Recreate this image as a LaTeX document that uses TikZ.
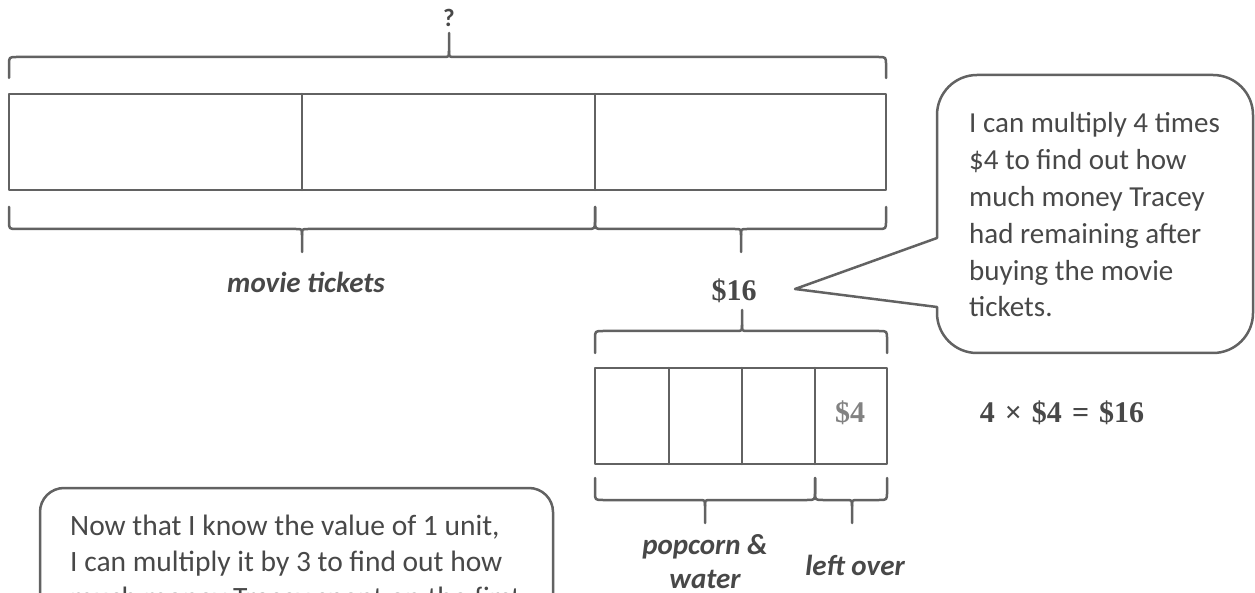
\documentclass[tikz,border=0pt]{standalone}
\usepackage{fontspec}
\setmainfont{Carlito}
\newfontfamily\numfont{Liberation Serif}
\definecolor{linegray}{RGB}{98,98,98}
\definecolor{txtgray}{RGB}{72,72,72}
\definecolor{lightnum}{RGB}{130,130,130}
\newcommand{\hbr}[6]{% x1,x2,xc,ytip,yline,ycusp
  \pgfmathsetmacro{\brT}{(#4-#5)/abs(#4-#5)*8}%
  \pgfmathsetmacro{\brC}{(#6-#5)/abs(#6-#5)*6}%
  \draw[ln] (#1,#4) -- (#1,{#5+\brT}) .. controls (#1,#5) .. ({#1+8},#5) -- ({#3-6},#5) .. controls (#3,#5) .. (#3,{#5+\brC}) -- (#3,#6);
  \draw[ln] (#3,{#5+\brC}) .. controls (#3,#5) .. ({#3+6},#5) -- ({#2-8},#5) .. controls (#2,#5) .. (#2,{#5+\brT}) -- (#2,#4);
}
\begin{document}
\begin{tikzpicture}[x=1pt,y=1pt,
  ln/.style={draw=linegray,line width=2.5pt,line join=round,line cap=round},
  txt/.style={text=txtgray,inner sep=0pt},
  lab/.style={txt,font=\fontsize{29}{34}\selectfont\itshape\bfseries},
  num/.style={txt,font=\fontsize{30}{34}\selectfont\numfont\bfseries}]
\useasboundingbox (0,0) rectangle (1255,592);
\clip (0,0) rectangle (1255,592);
\fill[white] (0,0) rectangle (1255,592);

% top brace and question mark
\node[txt,font=\fontsize{25}{27}\selectfont\bfseries] (q) at (449,574) {?};
\hbr{9}{886}{449}{514}{535}{559}

% big tape
\draw[ln] (9,402) rectangle (886,498);
\draw[ln] (302,402) -- (302,498);
\draw[ln] (595,402) -- (595,498);

% braces under big tape
\hbr{9}{595}{302}{385}{363}{340}
\hbr{595}{886}{741}{385}{363}{340}
\node[lab] (movie) at (306,310) {movie tickets};
\node[num] (s16) at (734,301) {\$16};

% brace over small tape
\hbr{595}{887}{742}{239}{261}{282}

% small tape
\draw[ln] (595,128) rectangle (887,224);
\foreach \xx in {669,742,815} \draw[ln] (\xx,128) -- (\xx,224);
\node[num,text=lightnum] (s4) at (850,179) {\$4};
\node[num] (eq) at (1062,179) {4\,\,×\,\,\$4\,\,=\,\,\$16};

% braces under small tape
\hbr{595}{815}{705}{114}{92}{69}
\hbr{815}{887}{852}{114}{92}{69}
\node[lab,align=center] (pop) at (705,30) {popcorn \&\\water};
\node[lab] (left) at (855,27) {left over};

% callout
\draw[ln,fill=white] (937,354) -- (937,477) arc[start angle=180,end angle=90,radius=40]
  -- (1213,517) arc[start angle=90,end angle=0,radius=40]
  -- (1253,279) arc[start angle=0,end angle=-90,radius=40]
  -- (977,239) arc[start angle=270,end angle=180,radius=40]
  -- (937,285) -- (795,303) -- cycle;
\node[txt,anchor=west,align=left,font=\fontsize{29}{36.8}\selectfont] (call) at (969,377)
  {I can multiply 4 times\\\$4 to find out how\\much money Tracey\\had remaining after\\buying the movie\\tickets.};

% lower explanation box
\draw[ln,rounded corners=24] (40,-40) -- (40,104) -- (553,104) -- (553,-40);
\node[txt,anchor=north west,align=left,font=\fontsize{29.5}{36}\selectfont] (expl) at (70,77)
  {Now that I know the value of 1 unit,\\I can multiply it by 3 to find out how\\much money Tracey spent on the first};
\end{tikzpicture}
\end{document}
